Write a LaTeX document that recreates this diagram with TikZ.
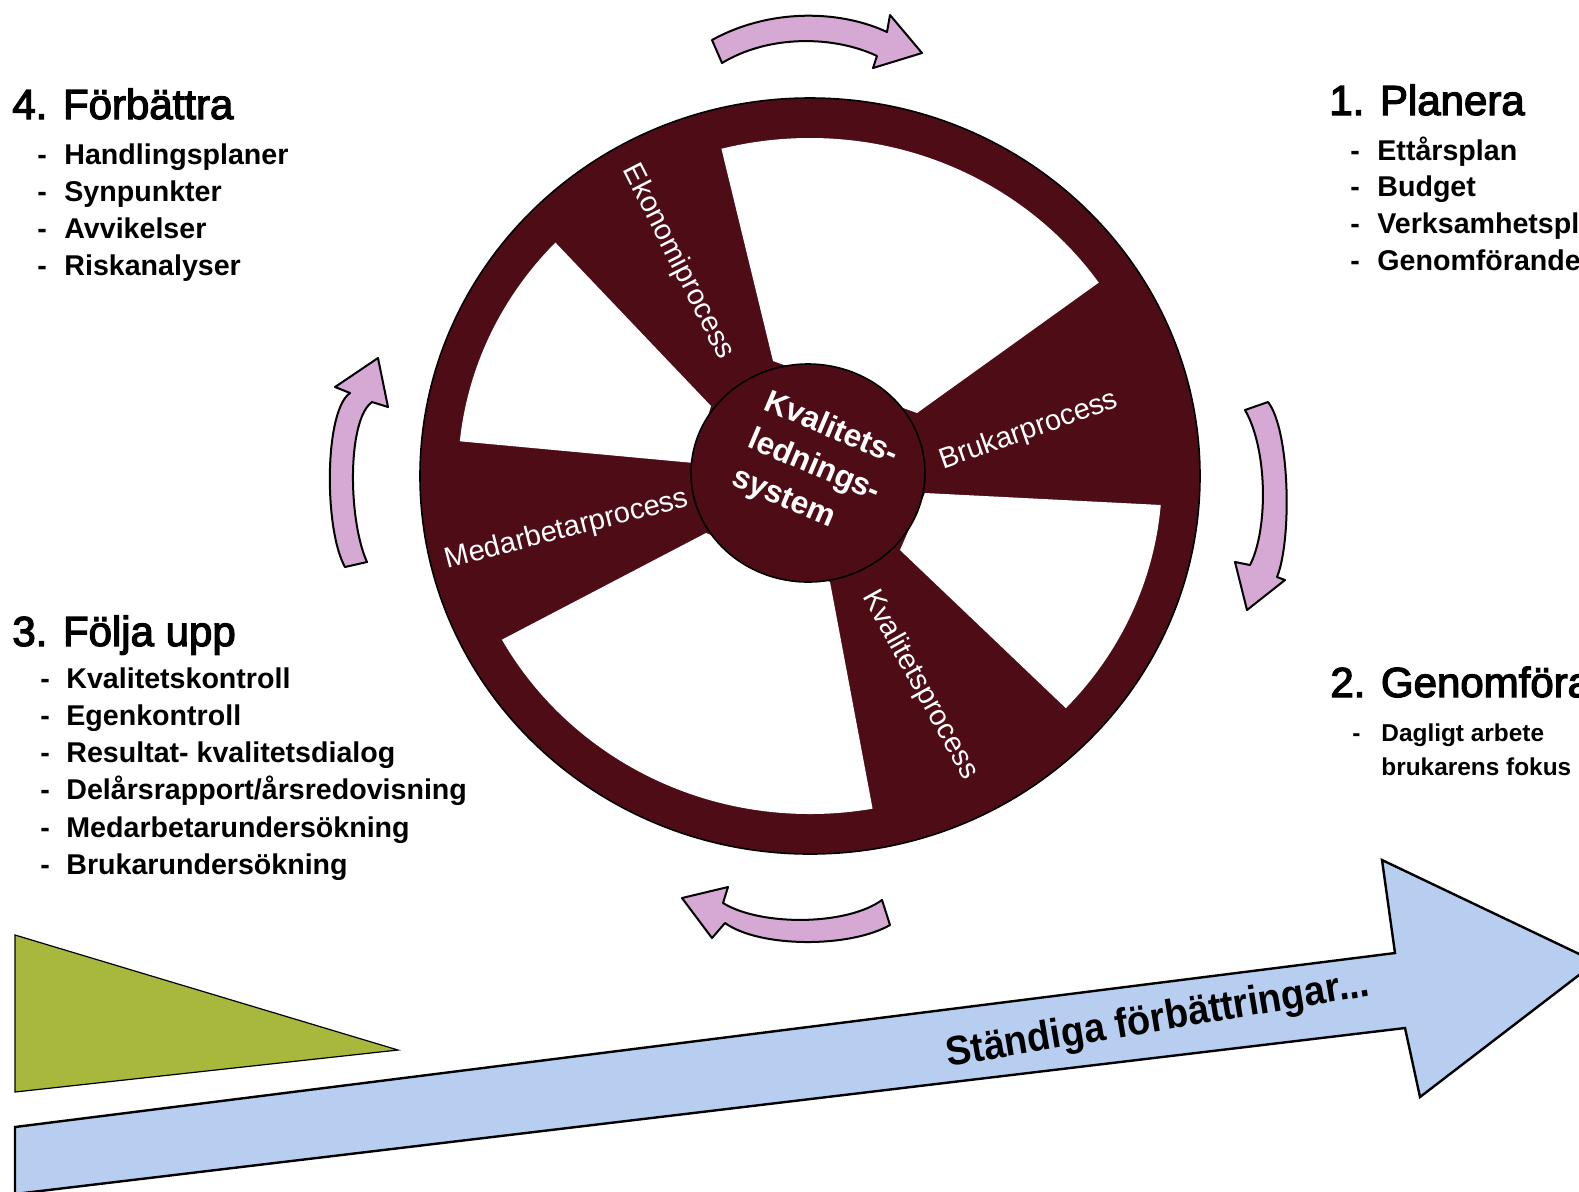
\documentclass[tikz,border=0pt]{standalone}
\usepackage{fontspec}
\setmainfont{Liberation Sans}
\newfontfamily\medfont{Liberation Sans}[FakeBold=3]
\usetikzlibrary{calc}
\definecolor{wheelred}{RGB}{78,12,22}
\definecolor{lilac}{RGB}{214,168,212}
\definecolor{skyb}{RGB}{183,206,240}
\definecolor{olivegr}{RGB}{168,184,60}
\begin{document}
\begin{tikzpicture}[x=0.5pt,y=-0.5pt,
  heading/.style={anchor=base west, inner sep=0pt, font=\medfont\fontsize{21}{25}\selectfont},
  itemtxt/.style={anchor=base west, inner sep=0pt, font=\fontsize{14.3}{17}\selectfont\bfseries},
  itemdash/.style={anchor=base west, inner sep=0pt, font=\fontsize{14.3}{17}\selectfont\bfseries},
  smallitem/.style={anchor=base west, inner sep=0pt, font=\fontsize{12.2}{15}\selectfont\bfseries},
  spoketxt/.style={text=white, inner sep=0pt, font=\fontsize{14.5}{17}\selectfont},
  hubtxt/.style={text=white, inner sep=0pt, align=left, font=\fontsize{15.8}{20.5}\selectfont\bfseries},
  pinkarrow/.style={fill=lilac, draw=black, line width=1pt, line join=round},
]
\clip (0,0) rectangle (1579,1191);
\fill[white] (0,0) rectangle (1579,1191);

% big blue arrow
\draw[fill=skyb, line width=1.2pt, line join=miter]
  (15,1127) -- (1395,953) -- (1382,860) -- (1596,962) -- (1420,1097) -- (1405,1028) -- (15,1194) -- cycle;
\node[anchor=base, rotate=9.5, inner sep=0pt, font=\fontsize{19}{22}\selectfont\bfseries] (stf) at (1160,1031)
  {\scalebox{1}[1.08]{Ständiga förbättringar...}};

% green triangle
\draw[fill=olivegr, line width=0.6pt] (15,935) -- (398,1050) -- (15,1092) -- cycle;

% wheel
\fill[wheelred] (810,476) ellipse [x radius=195pt, y radius=189pt];
\begin{scope}
  \clip (810,476) ellipse [x radius=176pt, y radius=169pt];
  \fill[white] (773,361) -- ($(773,361)!2.5!(721,147)$) -- ($(917,413)!2.5!(1094,286)$) -- (917,413) -- cycle;
  \fill[white] (925,493) -- ($(925,493)!2.5!(1161,505)$) -- ($(900,550)!2.5!(1072,714)$) -- (900,550) -- cycle;
  \fill[white] (830,582) -- ($(830,582)!2.5!(873,811)$) -- ($(706,533)!2.5!(507,637)$) -- (706,533) -- cycle;
  \fill[white] (694,463) -- ($(694,463)!2.5!(457,441)$) -- ($(711,406)!2.5!(552,239)$) -- (711,406) -- cycle;
\end{scope}
\draw[line width=0.8pt] (810,476) ellipse [x radius=195pt, y radius=189pt];
\draw[fill=wheelred, line width=0.8pt] (808,473) ellipse [x radius=58.5pt, y radius=54.5pt];

\node[spoketxt, rotate=-63] (eko) at (678,262) {Ekonomiprocess};
\node[spoketxt, rotate=19.5] (bru) at (1029,431) {Brukarprocess};
\node[spoketxt, rotate=-61] (kvp) at (920,685) {Kvalitetsprocess};
\node[spoketxt, rotate=14.5] (med) at (567,530) {Medarbetarprocess};
\node[hubtxt, rotate=-23] (kls) at (815,467) {Kvalitets-\\lednings-\\system};

% pink curved arrows
\draw[pinkarrow] (712,40) .. controls (770,8) and (840,10) .. (887,32) -- (890,15) -- (922,53) -- (873,68) -- (877,56)
  .. controls (835,36) and (770,34) .. (722,63) -- cycle;
\draw[pinkarrow] (1245,410) -- (1268,402) .. controls (1290,430) and (1292,540) .. (1277,577) -- (1285,580) -- (1247,610)
  -- (1235,562) -- (1250,565) .. controls (1268,530) and (1268,450) .. (1245,410) -- cycle;
\draw[pinkarrow] (345,567) .. controls (324,530) and (324,411) .. (350,393) -- (335,387) -- (378,358) -- (388,407)
  -- (372,402) .. controls (347,420) and (348,520) .. (367,562) -- cycle;
\draw[pinkarrow] (882,900) -- (890,925) .. controls (850,948) and (760,948) .. (725,923) -- (712,938) -- (682,898)
  -- (728,887) -- (723,903) .. controls (760,926) and (846,926) .. (882,900) -- cycle;

% 4. Förbättra
\node[heading] (h4) at (12,119) {4. Förbättra};
\foreach \t [count=\i from 0] in {Handlingsplaner,Synpunkter,Avvikelser,Riskanalyser}{
  \node[itemdash] (fd\i) at (37,164+37.3*\i) {-};
  \node[itemtxt] (ft\i) at (64,164+37.3*\i) {\t};
}

% 1. Planera
\node[heading] (h1) at (1329,115) {1. Planera};
\foreach \t [count=\i from 0] in {Ettårsplan,Budget,Verksamhetsplan,Genomförandeplan}{
  \node[itemdash] (pd\i) at (1350,160+36.7*\i) {-};
  \node[itemtxt] (pt\i) at (1377,160+36.7*\i) {\t};
}

% 3. Följa upp
\node[heading] (h3) at (12,646) {3. Följa upp};
\foreach \t [count=\i from 0] in {Kvalitetskontroll,Egenkontroll,Resultat- kvalitetsdialog,Delårsrapport/årsredovisning,Medarbetarundersökning,Brukarundersökning}{
  \node[itemdash] (ud\i) at (40,688+37.3*\i) {-};
  \node[itemtxt] (ut\i) at (66,688+37.3*\i) {\t};
}

% 2. Genomföra
\node[heading] (h2) at (1330,697) {2. Genomföra};
\node[smallitem] (gd0) at (1352,741) {-};
\node[smallitem] (gt0) at (1381,741) {Dagligt arbete};
\node[smallitem] (gt1) at (1381,775) {brukarens fokus};
\end{tikzpicture}
\end{document}
